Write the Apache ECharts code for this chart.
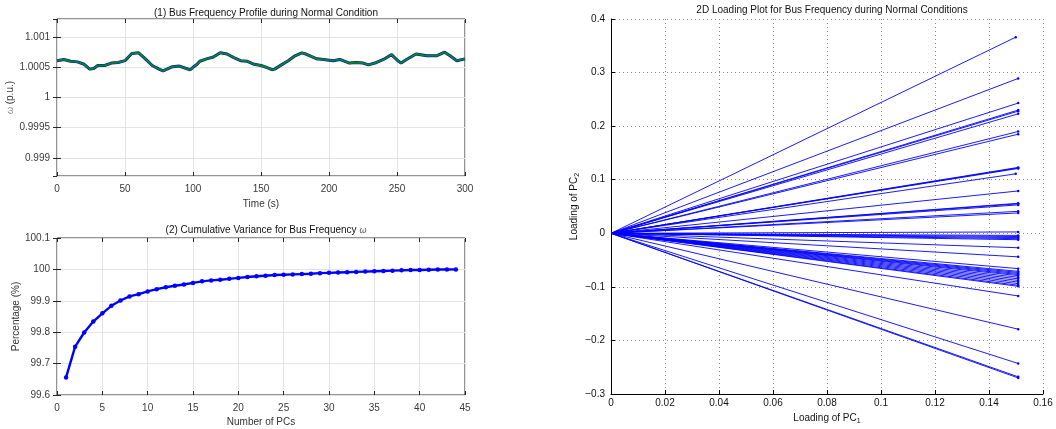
<!DOCTYPE html>
<html>
<head>
<meta charset="utf-8">
<script src="https://cdn.jsdelivr.net/npm/echarts@6/dist/echarts.min.js"></script>
<style>
  html, body { margin: 0; padding: 0; background: #fff; }
  #chart { width: 1056px; height: 429px; }
</style>
</head>
<body>
<div id="chart"></div>
<script>
// (1) bus frequency profile
const timeS = [0, 5, 10, 15, 20, 24, 27, 30, 35, 40, 45, 50, 55, 60, 65, 70, 75, 78, 80, 85,
  90, 95, 98, 100, 103, 105, 110, 115, 120, 125, 130, 135, 140, 145, 150, 155, 158, 160, 165, 170,
  175, 180, 183, 186, 191, 196, 203, 208, 215, 220, 225, 229, 235, 240, 246, 250, 253, 257, 264, 272,
  279, 285, 289, 294, 300];
const freqPu = [1.00061, 1.00063, 1.0006, 1.00059, 1.00055, 1.00047, 1.00048, 1.00053, 1.00053, 1.00057,
  1.00058, 1.00061, 1.00073, 1.00074, 1.00064, 1.00053, 1.00047, 1.00044, 1.00046, 1.00051,
  1.00052, 1.00048, 1.00046, 1.0005, 1.00055, 1.0006, 1.00064, 1.00067, 1.00074, 1.00072,
  1.00066, 1.00061, 1.0006, 1.00055, 1.00053, 1.00049, 1.00046, 1.00047, 1.00054, 1.00061,
  1.00069, 1.00074, 1.00072, 1.00069, 1.00064, 1.00063, 1.00061, 1.00063, 1.00057, 1.00058,
  1.00057, 1.00054, 1.00058, 1.00063, 1.00071, 1.00062, 1.00057, 1.00063, 1.00072, 1.00069,
  1.00069, 1.00075, 1.00069, 1.00061, 1.00064];

// (2) cumulative variance
const pcNumber = [];
for (let i = 1; i <= 44; i++) pcNumber.push(i);
const cumVariance = [99.656, 99.754, 99.799, 99.834, 99.860, 99.884, 99.901, 99.914, 99.921, 99.930,
  99.937, 99.943, 99.948, 99.952, 99.957, 99.962, 99.965, 99.967, 99.970, 99.973,
  99.976, 99.978, 99.980, 99.982, 99.983, 99.984, 99.985, 99.986, 99.988, 99.989,
  99.990, 99.991, 99.992, 99.993, 99.994, 99.995, 99.996, 99.997, 99.998, 99.998,
  99.999, 99.9995, 99.9998, 100.0];

// loading plot, one line per bus
const pc2Loading = [0.366, 0.289, 0.243, 0.230, 0.228, 0.223, 0.190, 0.185, 0.123, 0.122,
  0.121, 0.111, 0.079, 0.056, 0.055, 0.053, 0.041, 0.038, 0.0025, -0.004,
  -0.006, -0.008, -0.010, -0.012, -0.027, -0.044, -0.066, -0.071, -0.073, -0.075,
  -0.077, -0.079, -0.082, -0.085, -0.088, -0.091, -0.094, -0.097, -0.099, -0.117,
  -0.179, -0.243, -0.268, -0.270];
const pc1Loading = pc2Loading.map((v, i) => (i === 0 || i === 11) ? 0.1499 : 0.1508);

const fontFamily = '"Liberation Sans", Arial, sans-serif';
const boxColor = '#262626';
const lightGrid = '#e3e3e3';
const blue = '#0000ff';

function minusSign(v) {
  const s = String(+Math.abs(v).toFixed(4));
  return v < 0 ? '\u2212' + s : s;
}

function leftAxes(idx, min, max, interval, extra) {
  return Object.assign({
    gridIndex: idx,
    type: 'value',
    min: min,
    max: max,
    interval: interval,
    axisLine: { show: false },
    axisTick: { inside: true, length: 4, lineStyle: { color: boxColor } },
    axisLabel: { color: '#3a3a3a', fontSize: 10, fontFamily: fontFamily, margin: 8 },
    splitLine: { show: true, lineStyle: { color: lightGrid, width: 1 } }
  }, extra || {});
}

function mirrorAxis(idx, min, max, interval, position) {
  return {
    gridIndex: idx, type: 'value', min: min, max: max, interval: interval, position: position,
    axisLine: { show: false },
    axisTick: { inside: true, length: 4, lineStyle: { color: boxColor } },
    axisLabel: { show: false },
    splitLine: { show: false }
  };
}

const freqData = timeS.map((t, i) => [t, freqPu[i]]);
const varData = pcNumber.map((n, i) => [n, cumVariance[i]]);

const loadingSeries = pc2Loading.map((v, i) => ({
  type: 'line',
  xAxisIndex: 4,
  yAxisIndex: 4,
  data: [[0, 0], [pc1Loading[i], v]],
  symbol: 'circle',
  symbolSize: (val, p) => p.dataIndex === 1 ? 2.5 : 0,
  showSymbol: true,
  itemStyle: { color: blue },
  lineStyle: { color: blue, width: 0.9 },
  animation: false,
  silent: true
}));

const chart = echarts.init(document.getElementById('chart'));

chart.setOption({
  animation: false,
  textStyle: { fontFamily: fontFamily },
  title: [
    { text: '(1) Bus Frequency Profile during Normal Condition', left: 261, top: 3, textAlign: 'center',
      textStyle: { fontSize: 10, fontWeight: 'normal', color: '#111' } },
    { text: '(2) Cumulative Variance for Bus Frequency {w|ω}', left: 261, top: 220, textAlign: 'center',
      textStyle: { fontSize: 10, fontWeight: 'normal', color: '#111',
        rich: { w: { fontSize: 9, fontStyle: 'italic', color: '#555' } } } },
    { text: '2D Loading Plot for Bus Frequency during Normal Conditions', left: 827, top: 0, textAlign: 'center',
      textStyle: { fontSize: 10, fontWeight: 'normal', color: '#111' } }
  ],
  grid: [
    { left: 57, top: 19, width: 408, height: 157, show: true, borderColor: boxColor, borderWidth: 1,
      backgroundColor: 'transparent', outerBoundsMode: 'none' },
    { left: 57, top: 238, width: 408, height: 157, show: true, borderColor: boxColor, borderWidth: 1,
      backgroundColor: 'transparent', outerBoundsMode: 'none' },
    { left: 611, top: 19, width: 432, height: 375, outerBoundsMode: 'none' }
  ],
  xAxis: [
    leftAxes(0, 0, 300, 50, { name: 'Time (s)', nameLocation: 'middle', nameGap: 23,
      nameTextStyle: { fontSize: 10, color: '#333' } }),
    leftAxes(1, 0, 45, 5, { name: 'Number of PCs', nameLocation: 'middle', nameGap: 22,
      nameTextStyle: { fontSize: 10, color: '#333' } }),
    mirrorAxis(0, 0, 300, 50, 'top'),
    mirrorAxis(1, 0, 45, 5, 'top'),
    {
      gridIndex: 2, type: 'value', min: 0, max: 0.16, interval: 0.02,
      name: 'Loading of PC{s|1}', nameLocation: 'middle', nameGap: 13,
      nameTextStyle: { fontSize: 10, color: '#111', rich: { s: { fontSize: 7, verticalAlign: 'bottom', padding: [6, 0, 0, 0] } } },
      axisLine: { show: true, onZero: false, lineStyle: { color: '#000', width: 1 } },
      axisTick: { inside: true, length: 4, lineStyle: { color: '#000' } },
      axisLabel: { color: '#111', fontSize: 10, margin: 4, formatter: minusSign },
      splitLine: { show: true, lineStyle: { color: '#8a8a8a', type: [1, 3], width: 1 } }
    }
  ],
  yAxis: [
    leftAxes(0, 0.9987, 1.0013, null, {
      splitNumber: 5,
      name: '{w|ω} (p.u.)', nameLocation: 'middle', nameGap: 36,
      nameTextStyle: { fontSize: 10, color: '#333', rich: { w: { fontSize: 9, color: '#888', fontStyle: 'italic' } } },
      axisLabel: { color: '#3a3a3a', fontSize: 10, fontFamily: fontFamily, margin: 7, showMinLabel: false, showMaxLabel: false }
    }),
    leftAxes(1, 99.6, 100.1, 0.1, { name: 'Percentage (%)', nameLocation: 'middle', nameGap: 35,
      nameTextStyle: { fontSize: 10, color: '#333' },
      axisLabel: { color: '#3a3a3a', fontSize: 10, fontFamily: fontFamily, margin: 7,
        formatter: v => String(+v.toFixed(1)) } }),
    Object.assign(mirrorAxis(0, 0.9987, 1.0013, null, 'right'), { splitNumber: 5 }),
    mirrorAxis(1, 99.6, 100.1, 0.1, 'right'),
    {
      gridIndex: 2, type: 'value', min: -0.3, max: 0.4, interval: 0.1,
      name: 'Loading of PC{s|2}', nameLocation: 'middle', nameGap: 30,
      nameTextStyle: { fontSize: 10, color: '#111', rich: { s: { fontSize: 7, verticalAlign: 'bottom', padding: [6, 0, 0, 0] } } },
      axisLine: { show: true, onZero: false, lineStyle: { color: '#000', width: 1 } },
      axisTick: { inside: true, length: 4, lineStyle: { color: '#000' } },
      axisLabel: { color: '#111', fontSize: 10, margin: 6, formatter: minusSign },
      splitLine: { show: true, lineStyle: { color: '#8a8a8a', type: [1, 3], width: 1 } }
    }
  ],
  series: [
    { type: 'line', xAxisIndex: 0, yAxisIndex: 0, data: freqData, showSymbol: false,
      lineStyle: { color: blue, width: 3 }, silent: true },
    { type: 'line', xAxisIndex: 0, yAxisIndex: 0, data: freqData, showSymbol: false,
      lineStyle: { color: '#0a8a0a', width: 1.9 }, silent: true },
    { type: 'line', xAxisIndex: 1, yAxisIndex: 1, data: varData, symbol: 'circle', symbolSize: 4.5,
      itemStyle: { color: blue }, lineStyle: { color: blue, width: 2.4 }, silent: true }
  ].concat(loadingSeries)
});

window.addEventListener('resize', chart.resize);
</script>
</body>
</html>
